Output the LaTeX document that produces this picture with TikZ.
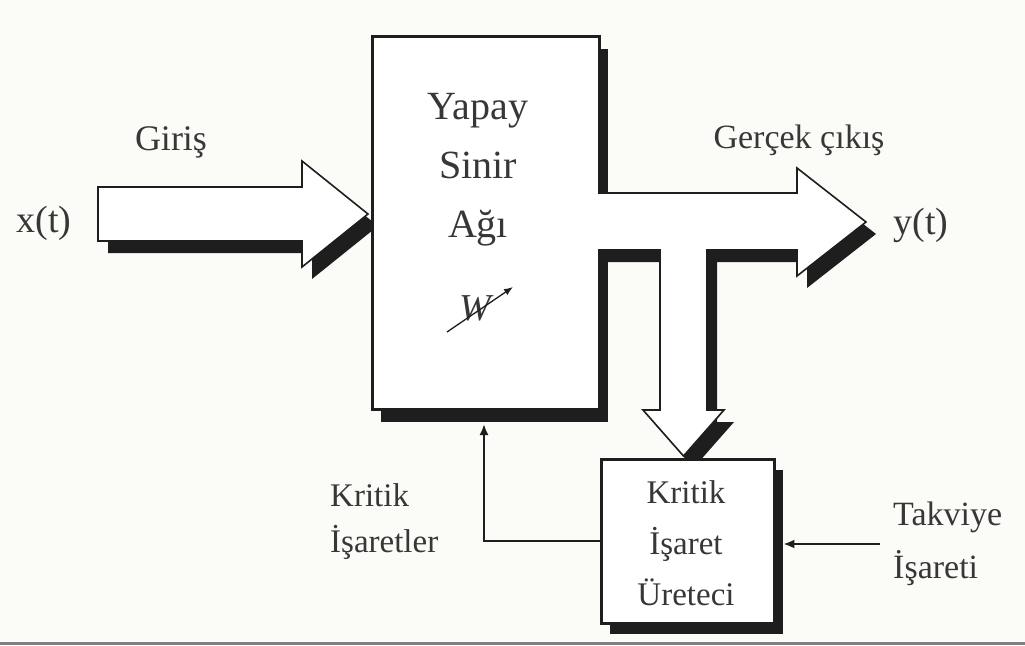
\documentclass[tikz,border=0pt]{standalone}
\usepackage{fontspec}
\setmainfont{Liberation Serif}
\usetikzlibrary{arrows.meta}
\definecolor{bg}{RGB}{251,251,247}
\definecolor{ink}{RGB}{30,30,30}
\definecolor{txt}{RGB}{55,55,55}
\begin{document}
\begin{tikzpicture}[x=1pt,y=-1pt,
  lbl/.style={text=txt, inner sep=0pt, font=\fontsize{36}{43}\selectfont},
  boxline/.style={draw=ink, line width=2.5pt, fill=white, inner sep=0pt, anchor=north west},
  shade/.style={fill=ink, draw=none, inner sep=0pt, anchor=north west},
  blockline/.style={draw=ink, line width=1.6pt, line join=miter},
  thinarrow/.style={draw=ink, line width=2pt, -{Latex[length=11pt,width=9pt]}},
]
\fill[bg] (0,0) rectangle (1025,645);
\useasboundingbox (0,0) rectangle (1025,645);

% input block arrow
\fill[ink, shift={(10,12)}] (98,187) -- (302,187) -- (302,161) -- (368,214) -- (302,267) -- (302,241) -- (98,241) -- cycle;
\filldraw[blockline, fill=white] (98,187) -- (302,187) -- (302,161) -- (368,214) -- (302,267) -- (302,241) -- (98,241) -- cycle;

% main box
\node[shade, minimum width=227pt, minimum height=373pt] (ysas) at (381,49) {};
\node[boxline, minimum width=227pt, minimum height=373pt] (ysa) at (371,35) {};

% output block arrow with stem
\fill[ink, shift={(10,12)}] (598,193) -- (797,193) -- (797,168) -- (866,222) -- (797,276) -- (797,250) -- (707,250) -- (707,410) -- (724,410) -- (683.5,456) -- (643,410) -- (660,410) -- (660,250) -- (598,250) -- cycle;
\fill[white] (598,193) -- (797,193) -- (797,168) -- (866,222) -- (797,276) -- (797,250) -- (707,250) -- (707,410) -- (724,410) -- (683.5,456) -- (643,410) -- (660,410) -- (660,250) -- (598,250) -- cycle;
\draw[blockline] (598,193) -- (797,193) -- (797,168) -- (866,222) -- (797,276) -- (797,250) -- (707,250) -- (707,410) -- (724,410) -- (683.5,456) -- (643,410) -- (660,410) -- (660,250) -- (598,250);

% critic box
\node[shade, minimum width=173pt, minimum height=164pt] (kritiks) at (610,470) {};
\node[boxline, minimum width=173pt, minimum height=164pt] (kritik) at (600,458) {};

% texts
\node[lbl, anchor=base] (giris) at (171,150) {Giriş};
\node[lbl, anchor=base, font=\fontsize{38}{43}\selectfont] (xt) at (44,232) {x(t)};
\node[lbl, anchor=base, font=\fontsize{34}{43}\selectfont] (cikis) at (799,148) {Gerçek çıkış};
\node[lbl, anchor=base, font=\fontsize{38}{43}\selectfont] (yt) at (921,234) {y(t)};
\node[lbl, align=center, font=\fontsize{40}{59}\selectfont] (ysatext) at (478,170) {Yapay\\Sinir\\Ağı};
\node[lbl, font=\itshape\fontsize{38}{40}\selectfont] (wgt) at (475,308) {W};
\draw[draw=ink, line width=1.3pt, -{Latex[length=9pt,width=7pt]}] ([shift={(-28,24)}]wgt.center) -- ([shift={(38,-21)}]wgt.center);
\node[lbl, align=center, font=\fontsize{33}{51}\selectfont] (kritiktext) at (686,543) {Kritik\\İşaret\\Üreteci};
\node[lbl, align=left, anchor=west, font=\fontsize{33}{46}\selectfont] (kisaret) at (330,522) {Kritik\\İşaretler};
\node[lbl, align=left, anchor=west, font=\fontsize{34}{53}\selectfont] (takv) at (893,544) {Takviye\\İşareti};

% thin arrows
\coordinate (fbend) at (484,424);
\draw[thinarrow] (kritik.west) -| (fbend);
\draw[thinarrow] ([xshift=-13pt]takv.west) -- (takv.west -| kritiks.east);

% bottom rule
\draw[line width=3pt, color=gray] (0,643.5) -- (1025,643.5);
\end{tikzpicture}
\end{document}
